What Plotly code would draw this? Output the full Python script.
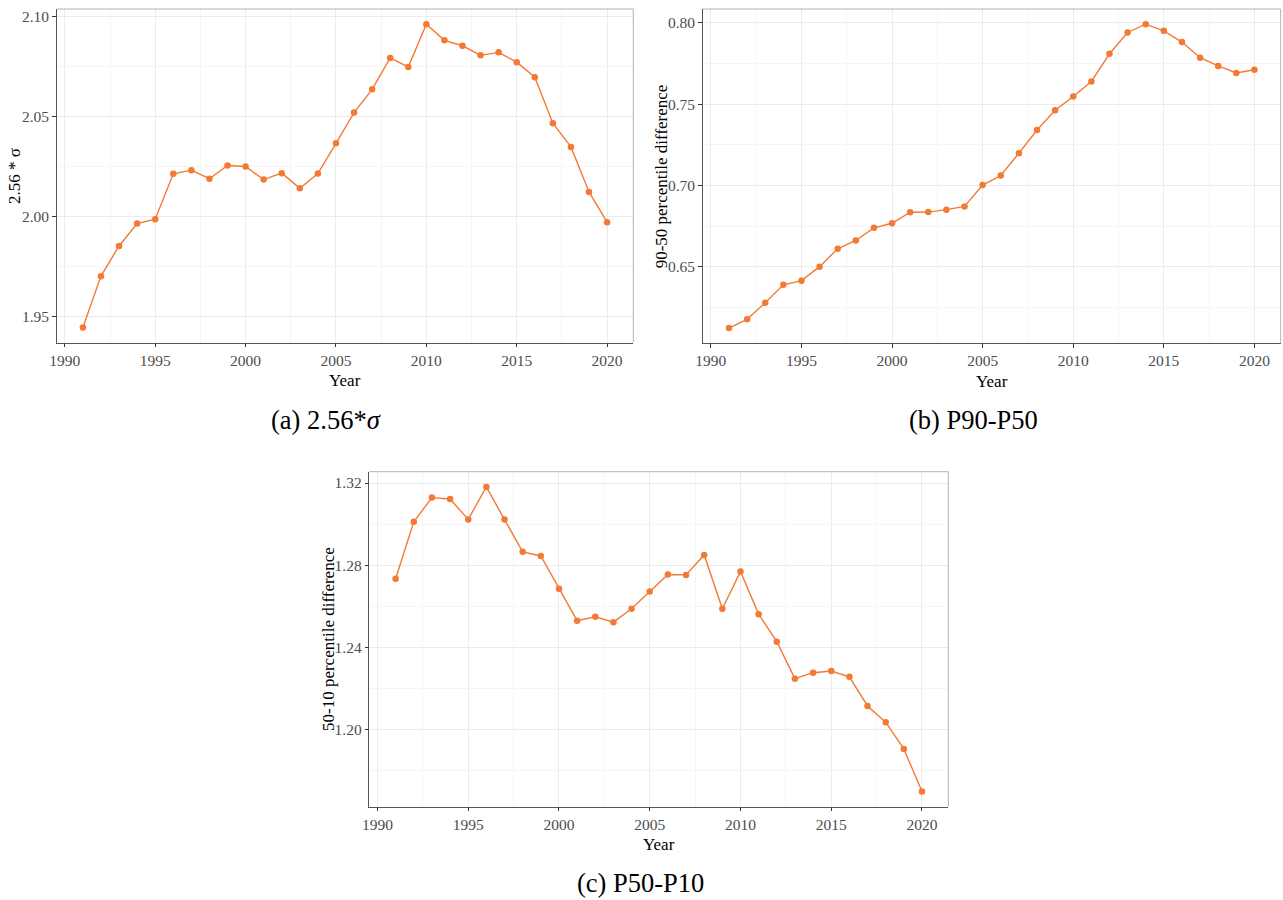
import plotly.graph_objects as go

years = list(range(1991, 2021))

sigma256 = [1.9445, 1.9702, 1.9853, 1.9965, 1.9987, 2.0214, 2.0232, 2.0189, 2.0255, 2.0250,
            2.0185, 2.0217, 2.0141, 2.0215, 2.0366, 2.0520, 2.0636, 2.0793, 2.0748, 2.0962,
            2.0881, 2.0854, 2.0806, 2.0821, 2.0772, 2.0697, 2.0467, 2.0348, 2.0123, 1.9972]

p90_p50 = [0.6122, 0.6176, 0.6278, 0.6388, 0.6414, 0.6500, 0.6610, 0.6661, 0.6739, 0.6767,
           0.6835, 0.6836, 0.6851, 0.6871, 0.7002, 0.7061, 0.7198, 0.7341, 0.7463, 0.7547,
           0.7639, 0.7810, 0.7941, 0.7992, 0.7951, 0.7882, 0.7786, 0.7735, 0.7692, 0.7712]

p50_p10 = [1.2734, 1.3011, 1.3129, 1.3122, 1.3023, 1.3181, 1.3022, 1.2865, 1.2845, 1.2685,
           1.2530, 1.2549, 1.2523, 1.2588, 1.2672, 1.2755, 1.2753, 1.2850, 1.2588, 1.2769,
           1.2562, 1.2428, 1.2248, 1.2277, 1.2285, 1.2257, 1.2115, 1.2036, 1.1906, 1.1699]

x_ticks = [1990, 1995, 2000, 2005, 2010, 2015, 2020]
a_ticks = [1.95, 2.00, 2.05, 2.10]
b_ticks = [0.65, 0.70, 0.75, 0.80]
c_ticks = [1.20, 1.24, 1.28, 1.32]

y_titles = ["2.56 * σ", "90-50 percentile difference", "50-10 percentile difference"]
captions = ["(a) 2.56*<i>σ</i>", "(b) P90-P50", "(c) P50-P10"]

W, H = 1283, 900
ORANGE = "#F27A35"
FONT = "Liberation Serif"

# panel pixel boxes: left, top, right, bottom
boxes = [(56.7, 9, 633.3, 342.7), (702.7, 9, 1280.7, 343.3), (369.3, 471.7, 948.3, 806.7)]

def dom(b):
    l, t, r, bt = b
    return [l / W, r / W], [1 - bt / H, 1 - t / H]

def yrange(v):
    lo, hi = min(v), max(v)
    e = (hi - lo) * 0.05
    return [lo - e, hi + e]

xr = [1991 - 29 * 0.05, 2020 + 29 * 0.05]

fig = go.Figure()
series = [sigma256, p90_p50, p50_p10]
yticks = [a_ticks, b_ticks, c_ticks]
ydt = [0.025, 0.025, 0.02]
layout = {}
for i, (vals, b) in enumerate(zip(series, boxes)):
    n = "" if i == 0 else str(i + 1)
    fig.add_trace(go.Scatter(x=years, y=vals, mode="lines+markers",
                             line=dict(color=ORANGE, width=1.4),
                             marker=dict(color=ORANGE, size=6.5),
                             xaxis="x" + n, yaxis="y" + n, showlegend=False))
    xd, yd = dom(b)
    common = dict(showline=True, linecolor="#555555", linewidth=1, ticks="outside",
                  ticklen=3.5, tickcolor="#333333", tickwidth=1, showgrid=True,
                  gridcolor="#EBEBEB", gridwidth=1, zeroline=False, automargin=False,
                  tickfont=dict(family=FONT, size=15.5, color="#4D4D4D"))
    layout["xaxis" + n] = dict(domain=xd, range=xr, anchor="y" + n, tickvals=x_ticks,
                               minor=dict(tick0=1990, dtick=2.5, showgrid=True,
                                          gridcolor="#F5F5F5", gridwidth=0.6),
                               **common)
    layout["yaxis" + n] = dict(domain=yd, range=yrange(vals), anchor="x" + n,
                               tickvals=yticks[i], tickformat=".2f",
                               minor=dict(tick0=yticks[i][0], dtick=ydt[i], showgrid=True,
                                          gridcolor="#F5F5F5", gridwidth=0.6),
                               **common)

shapes = []
annotations = []
for i, b in enumerate(boxes):
    l, t, r, bt = b
    shapes.append(dict(type="line", xref="paper", yref="paper", x0=l / W, x1=r / W,
                       y0=1 - t / H, y1=1 - t / H, line=dict(color="#B3B3B3", width=1)))
    shapes.append(dict(type="line", xref="paper", yref="paper", x0=r / W, x1=r / W,
                       y0=1 - t / H, y1=1 - bt / H, line=dict(color="#B3B3B3", width=1)))
    cx = (l + r) / 2
    cy = (t + bt) / 2
    annotations.append(dict(text="Year", xref="paper", yref="paper", x=cx / W, y=1 - (bt + 38) / H,
                            showarrow=False, font=dict(family=FONT, size=17, color="black"),
                            xanchor="center", yanchor="middle"))
    annotations.append(dict(text=y_titles[i], xref="paper", yref="paper", x=(l - 41.5) / W,
                            y=1 - cy / H, textangle=-90, showarrow=False,
                            font=dict(family=FONT, size=17, color="black"),
                            xanchor="center", yanchor="middle"))

cap_pos = [(326, 420), (973, 420), (640, 883)]
for c, (px, py) in zip(captions, cap_pos):
    annotations.append(dict(text=c, xref="paper", yref="paper", x=px / W, y=1 - py / H,
                            showarrow=False, font=dict(family=FONT, size=26.5, color="black"),
                            xanchor="center", yanchor="middle"))

fig.update_layout(width=W, height=H, margin=dict(l=0, r=0, t=0, b=0),
                  paper_bgcolor="white", plot_bgcolor="white",
                  shapes=shapes, annotations=annotations, **layout)

fig.write_html("out.html")
